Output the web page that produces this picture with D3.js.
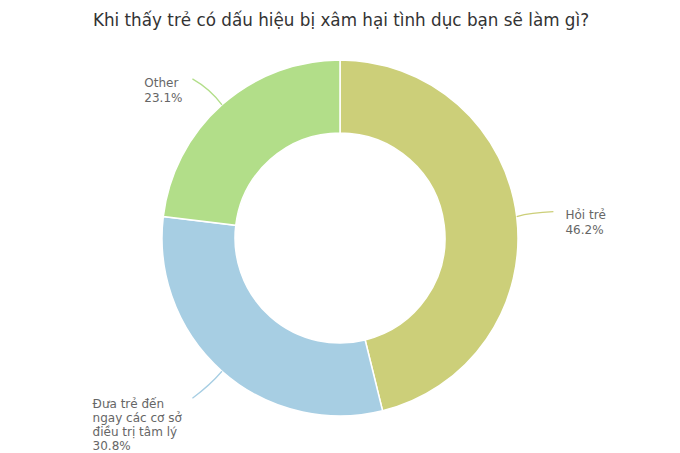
<!DOCTYPE html>
<html><head><meta charset="utf-8">
<script src="https://cdn.jsdelivr.net/npm/d3@7/dist/d3.min.js"></script>
<style>html,body{margin:0;padding:0;background:#fff;}</style>
</head><body>
<svg id="chart" width="680" height="453"></svg>
<script>
const title = "Khi thấy trẻ có dấu hiệu bị xâm hại tình dục bạn sẽ làm gì?";
const categories = ["Hỏi trẻ", "Đưa trẻ đến ngay các cơ sở điều trị tâm lý", "Other"];
const labelLines = [["Hỏi trẻ"], ["Đưa trẻ đến", "ngay các cơ sở", "điều trị tâm lý"], ["Other"]];
const values = [46.2, 30.8, 23.1];
const colors = ["#cccf79", "#a7cee3", "#b2de89"];

const W = 680, H = 453;
const cx = 340, cy = 238, R = 178, r0 = 105;
const svg = d3.select("#chart");
const font = "'DejaVu Sans', Verdana, sans-serif";

svg.append("text").attr("x", W/2 + 1).attr("y", 26).attr("text-anchor", "middle")
  .attr("font-family", font).attr("font-size", 16.8).attr("fill", "#333").text(title);

const pie = d3.pie().sort(null).value(d => d)(values);
const arc = d3.arc().innerRadius(r0).outerRadius(R);
const g = svg.append("g").attr("transform", `translate(${cx},${cy})`);
g.selectAll("path.slice").data(pie).join("path").attr("class", "slice")
  .attr("d", arc).attr("fill", (d, i) => colors[i]).attr("stroke", "#fff").attr("stroke-width", 1.5);

const fmt = d3.format(".1f");
pie.forEach((d, i) => {
  const a = (d.startAngle + d.endAngle) / 2;
  const p1 = [R * Math.sin(a), -R * Math.cos(a)];
  const p2 = [(R + 40) * Math.sin(a), -(R + 40) * Math.cos(a)];
  const right = Math.sin(a) > 0;
  const upper = Math.cos(a) > 0;
  let end, ctrl;
  if (right) {
    end = [p2[0] - 3, p2[1]];
    ctrl = [p1[0] + 14, end[1] + 1];
  } else {
    end = [p2[0] - 3, p2[1] + (upper ? 4 : -3)];
    ctrl = [p1[0] - 12, p1[1] + (upper ? -16 : 14)];
  }
  g.append("path").attr("d", `M${p1[0]},${p1[1]}Q${ctrl[0]},${ctrl[1]} ${end[0]},${end[1]}`)
    .attr("fill", "none").attr("stroke", colors[i]).attr("stroke-width", 1.3);
  const lines = labelLines[i].concat([fmt(values[i]) + "%"]);
  const lh = lines.length > 2 ? 14 : 15.5;
  const t = g.append("text").attr("font-family", font).attr("font-size", 12).attr("fill", "#666");
  lines.forEach((s, k) => t.append("tspan").attr("x", 0).attr("dy", k === 0 ? 0 : lh).text(s));
  const bw = t.node().getBBox().width;
  let tx, ty;
  if (right) { tx = end[0] + 12; ty = end[1] + 7; }
  else if (upper) { tx = end[0] - 10 - bw; ty = end[1] + 8; }
  else { tx = end[0] - 10 - bw; ty = end[1] + 10; }
  t.attr("transform", `translate(${tx},${ty})`);
});
</script>
</body></html>
